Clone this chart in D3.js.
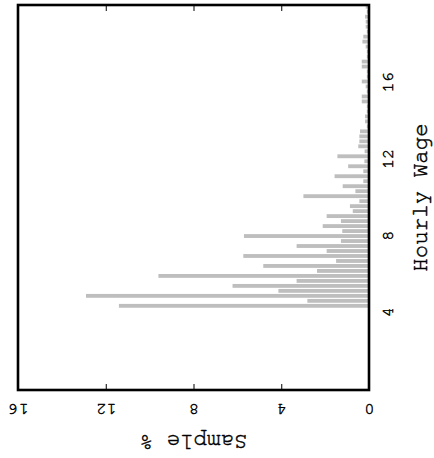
<!DOCTYPE html>
<html>
<head>
<meta charset="utf-8">
<script src="https://cdn.jsdelivr.net/npm/d3@7"></script>
<style>
    body { margin: 0; background: #fff; }
    text { font-family: "FreeMono", "Courier New", monospace; fill: #000; stroke: #000; stroke-width: 0.45px; }
</style>
</head>
<body>
<svg id="chart"></svg>
<script>
// bar centres on the hourly wage axis
const wages = [4.31, 4.57, 4.83, 5.09, 5.35, 5.61, 5.87, 6.13, 6.39, 6.65,
    6.91, 7.17, 7.43, 7.69, 7.95, 8.21, 8.47, 8.73, 8.99, 9.25,
    9.51, 9.77, 10.03, 10.29, 10.55, 10.81, 11.07, 11.33, 11.59, 11.85,
    12.11, 12.37, 12.63, 12.89, 13.15, 13.41, 13.67, 13.93, 14.19, 14.45,
    14.71, 14.97, 15.23, 15.49, 15.75, 16.01, 16.27, 16.53, 16.79, 17.05,
    17.31, 17.57, 17.83, 18.09, 18.35, 18.61, 18.87, 19.13, 19.39, 19.65, 19.91];

// sample % per bar
const samplePct = [11.4, 2.81, 12.9, 4.13, 6.22, 3.30, 9.60, 2.37, 4.82, 1.50,
    5.73, 1.93, 3.30, 1.28, 5.70, 1.22, 2.11, 1.28, 1.93, 0.74,
    0.87, 0.44, 2.99, 0.62, 1.20, 0.26, 1.57, 0.26, 0.95, 0.21,
    1.44, 0.20, 0.49, 0.44, 0.44, 0.41, 0.10, 0.18, 0.18, 0.10,
    0.10, 0.33, 0.33, 0.10, 0.15, 0.33, 0.10, 0.10, 0.33, 0.33,
    0.10, 0.10, 0.15, 0.30, 0.26, 0.10, 0.15, 0.15, 0.18, 0.10, 0.15];

const pctTicks = [0, 4, 8, 12, 16];
const wageTicks = [4, 8, 12, 16];

const width = 434;
const height = 458;
const frameLeft = 18, frameRight = 369, frameTop = 5, frameBottom = 390;
const barWidth = 0.2;

const svg = d3.select('#chart').attr('width', width).attr('height', height);
svg.append('rect').attr('width', width).attr('height', height).attr('fill', '#fff');

// plot is turned on its side: sample % runs right-to-left, wage runs bottom-to-top
const x = d3.scaleLinear().domain([0, 16]).range([frameRight, frameLeft]);
const y = d3.scaleLinear().domain([-0.08, 20]).range([frameBottom, frameTop]);

const bars = wages.map((w, i) => ({ wage: w, pct: samplePct[i] }));

svg.append('g')
    .selectAll('rect')
    .data(bars)
    .enter()
    .append('rect')
    .attr('x', d => x(d.pct))
    .attr('y', d => y(d.wage + barWidth / 2))
    .attr('width', d => x(0) - x(d.pct))
    .attr('height', d => y(d.wage - barWidth / 2) - y(d.wage + barWidth / 2))
    .attr('fill', '#bebebe');

// inward ticks on top and bottom edges
const bottomAxis = svg.append('g')
    .attr('transform', `translate(0, ${frameBottom})`)
    .call(d3.axisBottom(x).tickValues(pctTicks).tickSizeInner(-6).tickSizeOuter(0));
bottomAxis.select('.domain').remove();
bottomAxis.selectAll('line').attr('stroke', '#000');
bottomAxis.selectAll('text')
    .attr('y', 0)
    .attr('dy', '0.3em')
    .attr('transform', 'translate(0, 19) rotate(180)')
    .attr('text-anchor', 'middle')
    .style('font-size', '17px');

const topAxis = svg.append('g')
    .attr('transform', `translate(0, ${frameTop})`)
    .call(d3.axisTop(x).tickValues(pctTicks).tickSizeInner(-6).tickSizeOuter(0).tickFormat(''));
topAxis.select('.domain').remove();
topAxis.selectAll('line').attr('stroke', '#000');

const wageAxis = svg.append('g')
    .attr('transform', `translate(${frameRight}, 0)`)
    .call(d3.axisRight(y).tickValues(wageTicks).tickSize(0));
wageAxis.select('.domain').remove();
wageAxis.selectAll('text')
    .attr('x', 0)
    .attr('dy', '0.3em')
    .attr('transform', 'translate(19, 0) rotate(-90)')
    .attr('text-anchor', 'middle')
    .style('font-size', '17px');

// frame
svg.append('rect')
    .attr('x', frameLeft).attr('y', frameTop)
    .attr('width', frameRight - frameLeft).attr('height', frameBottom - frameTop)
    .attr('fill', 'none')
    .attr('stroke', '#000')
    .attr('stroke-width', 2.6);

svg.append('text')
    .attr('transform', `translate(${(frameLeft + frameRight) / 2}, 435) rotate(180)`)
    .attr('text-anchor', 'middle')
    .style('font-size', '22.5px')
    .text('Sample %');

svg.append('text')
    .attr('transform', `translate(427, ${(frameTop + frameBottom) / 2}) rotate(-90)`)
    .attr('text-anchor', 'middle')
    .style('font-size', '22.5px')
    .text('Hourly Wage');
</script>
</body>
</html>
